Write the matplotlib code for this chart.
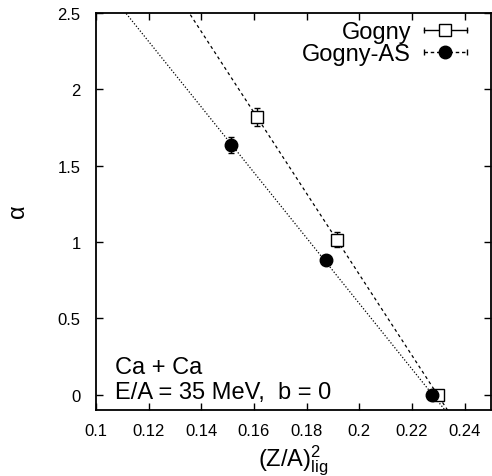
import numpy as np
import matplotlib
matplotlib.use("Agg")
import matplotlib.pyplot as plt
from matplotlib.lines import Line2D
from matplotlib.legend_handler import HandlerLine2D, HandlerTuple

plt.rcParams['font.family'] = ['Liberation Sans', 'DejaVu Sans']
plt.rcParams['mathtext.fontset'] = 'custom'
plt.rcParams['mathtext.rm'] = 'Liberation Sans'
plt.rcParams['mathtext.it'] = 'Liberation Sans'

# data
za2_gogny = [0.161, 0.1915, 0.2297]
alpha_gogny = [1.82, 1.015, 0.0]
err_gogny = [0.06, 0.05, 0.03]

za2_as = [0.1513, 0.1872, 0.2276]
alpha_as = [1.635, 0.885, 0.0]
err_as = [0.05, 0.03, 0.03]

x_ticks = [0.1, 0.12, 0.14, 0.16, 0.18, 0.2, 0.22, 0.24]
x_labels = ['0.1', '0.12', '0.14', '0.16', '0.18', '0.2', '0.22', '0.24']
y_ticks = [0, 0.5, 1, 1.5, 2, 2.5]
y_labels = ['0', '0.5', '1', '1.5', '2', '2.5']

fig = plt.figure(figsize=(4.92, 4.77), dpi=100)
ax = fig.add_axes([0.195, 0.138, 0.803, 0.833])

# linear fits through each set
xx = np.linspace(0.1, 0.25, 200)
c1 = np.polyfit(za2_gogny, alpha_gogny, 1)
c2 = np.polyfit(za2_as, alpha_as, 1)
ax.plot(xx, np.polyval(c1, xx), color='black', lw=0.9, ls=(0, (2.5, 2.5)))
ax.plot(xx, np.polyval(c2, xx), color='black', lw=0.9, ls=(0, (1, 1.5)))

ax.errorbar(za2_gogny, alpha_gogny, yerr=err_gogny, fmt='s', ms=9, mfc='white',
            mec='black', mew=1.0, ecolor='black', elinewidth=1.0, capsize=2.5, zorder=3)
ax.errorbar(za2_as, alpha_as, yerr=err_as, fmt='o', ms=9, mfc='black',
            mec='black', ecolor='black', elinewidth=1.0, capsize=2.5, zorder=3)

ax.set_xlim(0.1, 0.25)
ax.set_ylim(-0.1, 2.5)
ax.set_xticks(x_ticks)
ax.set_xticklabels(x_labels)
ax.set_yticks(y_ticks)
ax.set_yticklabels(y_labels)
ax.tick_params(direction='in', top=True, right=True, length=5, width=1.0,
               labelsize=12)
ax.tick_params(axis='x', pad=9)
ax.tick_params(axis='y', pad=11)
for s in ax.spines.values():
    s.set_linewidth(1.3)

ax.set_xlabel(r'(Z/A)$^2_{\rm lig}$', fontsize=17, labelpad=4)
ax.set_ylabel(r'$\alpha$', fontsize=17, labelpad=20)

ax.text(0.047, 0.094, 'Ca + Ca', transform=ax.transAxes, fontsize=17)
ax.text(0.047, 0.030, 'E/A = 35 MeV,  b = 0', transform=ax.transAxes, fontsize=17)

# legend samples in gnuplot style
g_line = Line2D([], [], color='black', lw=1.0, ls='-', marker='|', ms=5)
g_mark = Line2D([], [], ls='none', marker='s', ms=9, mfc='white', mec='black')
a_line = Line2D([], [], color='black', lw=1.0, ls=(0, (2.5, 2)), marker='|', ms=5)
a_mark = Line2D([], [], ls='none', marker='o', ms=9, mfc='black', mec='black')
hmap = {g_line: HandlerLine2D(numpoints=2), a_line: HandlerLine2D(numpoints=2),
        g_mark: HandlerLine2D(numpoints=1), a_mark: HandlerLine2D(numpoints=1),
        tuple: HandlerTuple(ndivide=1, pad=0)}
ax.legend([(g_line, g_mark), (a_line, a_mark)], ['Gogny', 'Gogny-AS'],
          loc='upper right', bbox_to_anchor=(0.98, 1.003), frameon=False,
          markerfirst=False, fontsize=17, handlelength=2.4, handletextpad=0.25,
          labelspacing=0.0, borderaxespad=0, handler_map=hmap)

fig.savefig('out.png', dpi=100)
